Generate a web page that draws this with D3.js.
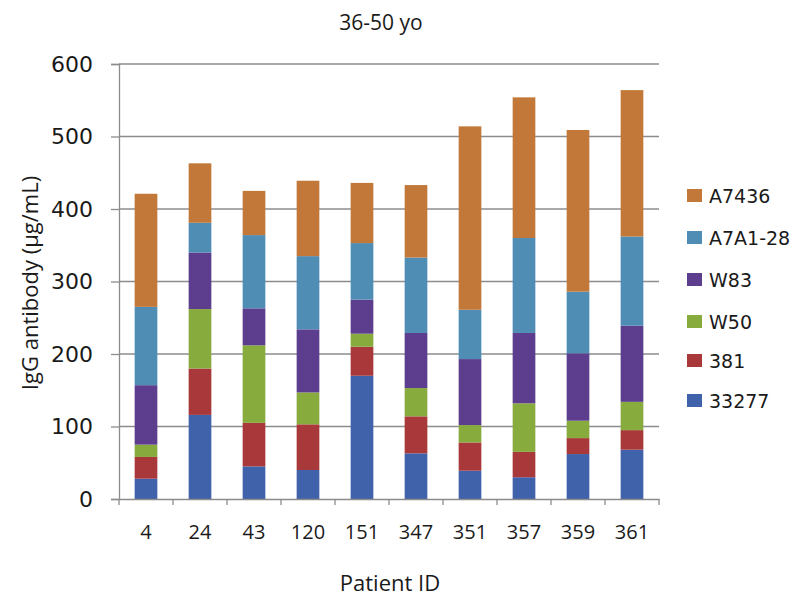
<!DOCTYPE html>
<html><head><meta charset="utf-8">
<script src="https://cdn.jsdelivr.net/npm/d3@7"></script>
<style>body{margin:0;background:#fff}text{fill:#1a1a1a}</style>
</head><body>
<svg id="c" width="800" height="597"></svg>
<script>
const categories = ["4","24","43","120","151","347","351","357","359","361"];
const seriesNames = ["33277","381","W50","W83","A7A1-28","A7436"];
const s33277 = [28,116,45,40,170,63,39,30,62,68];
const s381   = [30,64,60,63,40,51,39,35,22,27];
const sW50   = [17,82,107,44,18,39,24,67,24,39];
const sW83   = [82,78,51,87,47,76,91,97,93,105];
const sA7A1  = [108,41,101,101,78,104,68,131,85,123];
const sA7436 = [156,82,61,104,83,100,253,194,223,202];
const yTicks = [0,100,200,300,400,500,600];
const colors = ["#3f62aa","#a8383a","#88ab3e","#5c3d8e","#4f8db5","#c27838"];

const seriesVals = [s33277,s381,sW50,sW83,sA7A1,sA7436];
const rows = categories.map((c,i)=>{const r={cat:c}; seriesNames.forEach((s,j)=>r[s]=seriesVals[j][i]); return r;});
const stack = d3.stack().keys(seriesNames)(rows);

const svg = d3.select("#c");
const L=119,R=659,T=64,B=499;
const x = d3.scaleBand().domain(categories).range([L,R]).paddingInner(0.58).paddingOuter(0.29);
const y = d3.scaleLinear().domain([0,600]).range([B,T]);

svg.append("g").selectAll("line").data(yTicks.filter(d=>d>0)).join("line")
  .attr("x1",L).attr("x2",R).attr("y1",d=>y(d)).attr("y2",d=>y(d))
  .attr("stroke","#8c8c8c").attr("stroke-width",1.3);

svg.append("g").selectAll("g").data(stack).join("g").attr("fill",(d,i)=>colors[i])
  .selectAll("rect").data(d=>d).join("rect")
  .attr("x",d=>x(d.data.cat)).attr("width",x.bandwidth())
  .attr("y",d=>y(d[1])).attr("height",d=>y(d[0])-y(d[1]));

const ya = svg.append("g").attr("transform",`translate(${L},0)`)
  .call(d3.axisLeft(y).tickValues(yTicks).tickSize(8).tickPadding(18));
ya.select(".domain").attr("stroke","#8c8c8c").attr("stroke-width",1.3);
ya.selectAll(".tick line").attr("stroke","#8c8c8c").attr("stroke-width",1.3);
ya.selectAll("text").attr("font-family","DejaVu Sans, sans-serif").attr("font-size",22).attr("fill","#1a1a1a");

const xa = svg.append("g").attr("transform",`translate(0,${B})`)
  .call(d3.axisBottom(x).tickSize(0).tickPadding(26));
xa.select(".domain").attr("stroke","#8c8c8c").attr("stroke-width",1.3);
xa.selectAll("text").attr("font-family","Open Sans, sans-serif").attr("font-size",20).attr("fill","#1a1a1a");
const sepPos = d3.range(categories.length+1).map(i=>L+i*(R-L)/categories.length);
svg.append("g").selectAll("line").data(sepPos).join("line")
  .attr("x1",d=>d).attr("x2",d=>d).attr("y1",B).attr("y2",B+6)
  .attr("stroke","#8c8c8c").attr("stroke-width",1.3);

svg.append("text").attr("x",381).attr("y",30).attr("text-anchor","middle")
  .attr("font-family","Open Sans, sans-serif").attr("font-size",21).text("36-50 yo");
svg.append("text").attr("x",390).attr("y",591).attr("text-anchor","middle")
  .attr("font-family","Open Sans, sans-serif").attr("font-size",22).text("Patient ID");
svg.append("text").attr("transform","translate(38,283) rotate(-90)").attr("text-anchor","middle")
  .attr("font-family","Open Sans, sans-serif").attr("font-size",22).text("IgG antibody (µg/mL)");

const leg = svg.append("g");
const legOrder = seriesNames.slice().reverse();
const legY = [196,238,280,322,361,401];
legOrder.forEach((s,i)=>{
  const ci = seriesNames.indexOf(s);
  leg.append("rect").attr("x",687).attr("y",legY[i]-7).attr("width",15).attr("height",13).attr("fill",colors[ci]);
  leg.append("text").attr("x",709).attr("y",legY[i]+7).attr("font-family","DejaVu Sans, sans-serif").attr("font-size",19).text(s);
});
</script>
</body></html>
